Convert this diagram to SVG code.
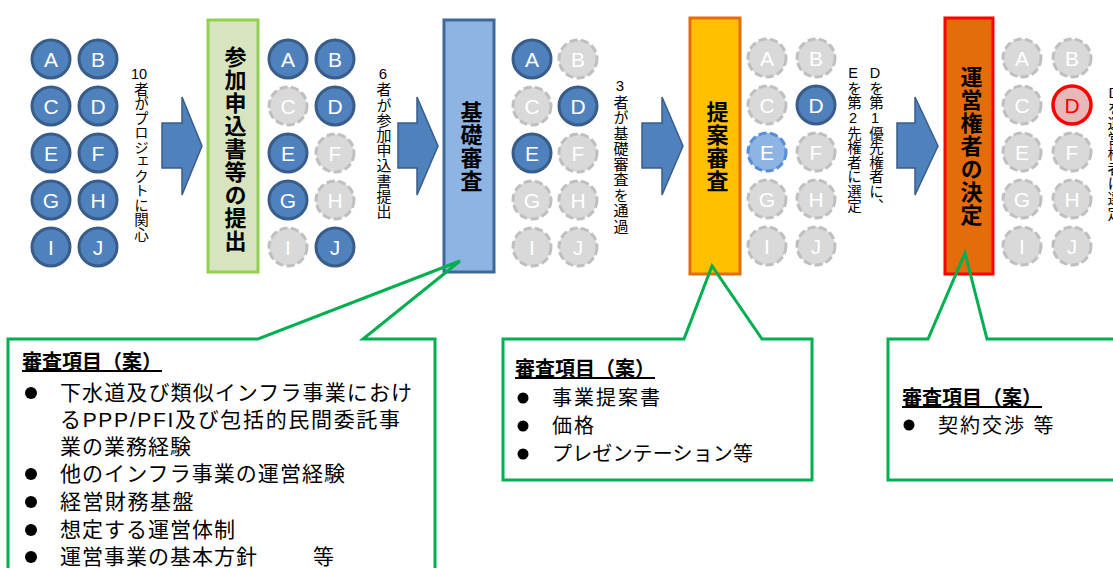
<svg xmlns="http://www.w3.org/2000/svg" width="1113" height="568" viewBox="0 0 1113 568">
<style>
.jp{font-family:"Liberation Sans","Noto Sans CJK JP",sans-serif;}
.v{writing-mode:vertical-rl;text-orientation:upright;font-family:"Liberation Sans","Noto Sans CJK JP",sans-serif;fill:#000;}
.lbl{font-size:15px;}
.ttl{font-size:22px;font-weight:bold;}
.on{fill:#4F81BD;stroke:#385D8A;stroke-width:3;}
.off{fill:#D9D9D9;stroke:#BFBFBF;stroke-width:3;stroke-dasharray:8 3.5;}
.sub{fill:#8EB4E3;stroke:#558ED5;stroke-width:3;stroke-dasharray:8 3.5;}
.win{fill:#E6B9B8;stroke:#FF0000;stroke-width:3.5;}
.ch{font-family:"Liberation Sans",Arial,sans-serif;font-size:21px;fill:#fff;text-anchor:middle;}
.chr{font-family:"Liberation Sans",Arial,sans-serif;font-size:21px;fill:#FF0000;text-anchor:middle;}
.arrow{fill:#4F81BD;stroke:#385D8A;stroke-width:1.5;}
.call{fill:none;stroke:#00B050;stroke-width:3;stroke-linejoin:miter;}
.hd{font-family:"Liberation Sans","Noto Sans CJK JP",sans-serif;font-size:20px;font-weight:bold;text-decoration:underline;fill:#000;}
.it{font-family:"Liberation Sans","Noto Sans CJK JP",sans-serif;font-size:21px;fill:#000;}
.it2{font-family:"Liberation Sans","Noto Sans CJK JP",sans-serif;font-size:20px;fill:#000;}
</style>
<rect x="0" y="0" width="1113" height="568" fill="#fff"/>

<!-- Group 1: 10 companies -->
<g id="group1">
<circle class="on" cx="51" cy="59" r="19"/><text class="ch" x="51" y="66.5">A</text>
<circle class="on" cx="98" cy="59" r="19"/><text class="ch" x="98" y="66.5">B</text>
<circle class="on" cx="51" cy="106" r="19"/><text class="ch" x="51" y="113.5">C</text>
<circle class="on" cx="98" cy="106" r="19"/><text class="ch" x="98" y="113.5">D</text>
<circle class="on" cx="51" cy="153" r="19"/><text class="ch" x="51" y="160.5">E</text>
<circle class="on" cx="98" cy="153" r="19"/><text class="ch" x="98" y="160.5">F</text>
<circle class="on" cx="51" cy="200" r="19"/><text class="ch" x="51" y="207.5">G</text>
<circle class="on" cx="98" cy="200" r="19"/><text class="ch" x="98" y="207.5">H</text>
<circle class="on" cx="51" cy="247" r="19"/><text class="ch" x="51" y="254.5">I</text>
<circle class="on" cx="98" cy="247" r="19"/><text class="ch" x="98" y="254.5">J</text>
</g>
<g id="label1">
<text class="jp" x="139" y="79" font-size="14.5" text-anchor="middle">10</text>
<text class="v lbl" x="140" y="82" style="font-size:14.5px">者がプロジェクトに関心</text>
</g>

<!-- Group 2 -->
<g id="group2">
<circle class="on" cx="288" cy="59" r="19"/><text class="ch" x="288" y="66.5">A</text>
<circle class="on" cx="335" cy="59" r="19"/><text class="ch" x="335" y="66.5">B</text>
<circle class="off" cx="288" cy="106" r="19"/><text class="ch" x="288" y="113.5">C</text>
<circle class="on" cx="335" cy="106" r="19"/><text class="ch" x="335" y="113.5">D</text>
<circle class="on" cx="288" cy="153" r="19"/><text class="ch" x="288" y="160.5">E</text>
<circle class="off" cx="335" cy="153" r="19"/><text class="ch" x="335" y="160.5">F</text>
<circle class="on" cx="288" cy="200" r="19"/><text class="ch" x="288" y="207.5">G</text>
<circle class="off" cx="335" cy="200" r="19"/><text class="ch" x="335" y="207.5">H</text>
<circle class="off" cx="288" cy="247" r="19"/><text class="ch" x="288" y="254.5">I</text>
<circle class="on" cx="335" cy="247" r="19"/><text class="ch" x="335" y="254.5">J</text>
</g>
<g id="label2">
<text class="v lbl" x="383" y="65" style="letter-spacing:0.2px">6者が参加申込書提出</text>
</g>

<!-- Group 3 -->
<g id="group3">
<circle class="on" cx="532" cy="59" r="19"/><text class="ch" x="532" y="66.5">A</text>
<circle class="off" cx="578" cy="59" r="19"/><text class="ch" x="578" y="66.5">B</text>
<circle class="off" cx="532" cy="106" r="19"/><text class="ch" x="532" y="113.5">C</text>
<circle class="on" cx="578" cy="106" r="19"/><text class="ch" x="578" y="113.5">D</text>
<circle class="on" cx="532" cy="153" r="19"/><text class="ch" x="532" y="160.5">E</text>
<circle class="off" cx="578" cy="153" r="19"/><text class="ch" x="578" y="160.5">F</text>
<circle class="off" cx="532" cy="200" r="19"/><text class="ch" x="532" y="207.5">G</text>
<circle class="off" cx="578" cy="200" r="19"/><text class="ch" x="578" y="207.5">H</text>
<circle class="off" cx="532" cy="247" r="19"/><text class="ch" x="532" y="254.5">I</text>
<circle class="off" cx="578" cy="247" r="19"/><text class="ch" x="578" y="254.5">J</text>
</g>
<g id="label3">
<text class="v lbl" x="620" y="77" style="letter-spacing:0.5px">3者が基礎審査を通過</text>
</g>

<!-- Group 4 -->
<g id="group4">
<circle class="off" cx="767" cy="58" r="19"/><text class="ch" x="767" y="65.5">A</text>
<circle class="off" cx="816" cy="58" r="19"/><text class="ch" x="816" y="65.5">B</text>
<circle class="off" cx="767" cy="105" r="19"/><text class="ch" x="767" y="112.5">C</text>
<circle class="on" cx="816" cy="105" r="19"/><text class="ch" x="816" y="112.5">D</text>
<circle class="sub" cx="767" cy="152" r="19"/><text class="ch" x="767" y="159.5">E</text>
<circle class="off" cx="816" cy="152" r="19"/><text class="ch" x="816" y="159.5">F</text>
<circle class="off" cx="767" cy="199" r="19"/><text class="ch" x="767" y="206.5">G</text>
<circle class="off" cx="816" cy="199" r="19"/><text class="ch" x="816" y="206.5">H</text>
<circle class="off" cx="767" cy="246" r="19"/><text class="ch" x="767" y="253.5">I</text>
<circle class="off" cx="816" cy="246" r="19"/><text class="ch" x="816" y="253.5">J</text>
</g>
<g id="label4">
<text class="v lbl" x="875" y="65" style="font-size:14.5px">Dを第1優先権者に、</text>
<text class="v lbl" x="853" y="65" style="font-size:14.5px">Eを第2先権者に選定</text>
</g>

<!-- Group 5 -->
<g id="group5">
<circle class="off" cx="1022" cy="58" r="19"/><text class="ch" x="1022" y="65.5">A</text>
<circle class="off" cx="1072" cy="58" r="19"/><text class="ch" x="1072" y="65.5">B</text>
<circle class="off" cx="1022" cy="105" r="19"/><text class="ch" x="1022" y="112.5">C</text>
<circle class="win" cx="1072" cy="105" r="19"/><text class="chr" x="1072" y="112.5">D</text>
<circle class="off" cx="1022" cy="152" r="19"/><text class="ch" x="1022" y="159.5">E</text>
<circle class="off" cx="1072" cy="152" r="19"/><text class="ch" x="1072" y="159.5">F</text>
<circle class="off" cx="1022" cy="199" r="19"/><text class="ch" x="1022" y="206.5">G</text>
<circle class="off" cx="1072" cy="199" r="19"/><text class="ch" x="1072" y="206.5">H</text>
<circle class="off" cx="1022" cy="246" r="19"/><text class="ch" x="1022" y="253.5">I</text>
<circle class="off" cx="1072" cy="246" r="19"/><text class="ch" x="1072" y="253.5">J</text>
</g>
<g id="label5">
<text class="v lbl" x="1114" y="84">Dを運営権者に選定</text>
</g>

<!-- Stage boxes -->
<g id="stage1">
<rect x="208" y="20" width="50" height="252" fill="#D7E4BD" stroke="#92D050" stroke-width="3"/>
<text class="v ttl" x="233" y="46" style="letter-spacing:1px">参加申込書等の提出</text>
</g>
<g id="stage2">
<rect x="444" y="20" width="50" height="252" fill="#8EB4E3" stroke="#3F6898" stroke-width="3"/>
<text class="v ttl" x="469" y="101" style="letter-spacing:1px">基礎審査</text>
</g>
<g id="stage3">
<rect x="690" y="18" width="50" height="256" fill="#FFC000" stroke="#E46C0A" stroke-width="3"/>
<text class="v ttl" x="715" y="101" style="letter-spacing:1px">提案審査</text>
</g>
<g id="stage4">
<rect x="945" y="18" width="48" height="256" fill="#E46C0A" stroke="#FF0000" stroke-width="3"/>
<text class="v ttl" x="969" y="66" style="letter-spacing:1px">運営権者の決定</text>
</g>

<!-- Connectors -->
<g id="connectors">
<polygon class="arrow" points="162,123 182,123 182,97 202,146 182,195 182,168 162,168"/>
<polygon class="arrow" points="398,123 417,123 417,97 438,146 417,195 417,168 398,168"/>
<polygon class="arrow" points="642,123 662,123 662,97 683,146 662,195 662,168 642,168"/>
<polygon class="arrow" points="897,123 915,123 915,97 938,146 915,195 915,168 897,168"/>
</g>

<!-- Callouts -->
<g id="callout1">
<path class="call" d="M8,572 L8,339 L258,339 L460,261 L363,339 L435,339 L435,572"/>
<text class="hd" x="22" y="369">審査項目（案）</text>
<circle cx="31" cy="393" r="6" fill="#000"/>
<text class="it" x="60" y="400" textLength="352" lengthAdjust="spacing">下水道及び類似インフラ事業におけ</text>
<text class="it" x="60" y="427" textLength="340" lengthAdjust="spacing">るPPP/PFI及び包括的民間委託事</text>
<text class="it" x="60" y="454" style="letter-spacing:1px">業の業務経験</text>
<circle cx="31" cy="474" r="6" fill="#000"/>
<text class="it" x="60" y="481" textLength="285" lengthAdjust="spacing">他のインフラ事業の運営経験</text>
<circle cx="31" cy="502" r="6" fill="#000"/>
<text class="it" x="60" y="509" style="letter-spacing:1.5px">経営財務基盤</text>
<circle cx="31" cy="530" r="6" fill="#000"/>
<text class="it" x="60" y="537" style="letter-spacing:1px">想定する運営体制</text>
<circle cx="31" cy="557" r="6" fill="#000"/>
<text class="it" x="60" y="564" style="letter-spacing:1px">運営事業の基本方針<tspan x="313">等</tspan></text>
</g>
<g id="callout2">
<path class="call" d="M503,339 L684,339 L712,266 L762,339 L812,339 L812,480 L503,480 Z"/>
<text class="hd" x="515" y="376">審査項目（案）</text>
<circle cx="523" cy="398" r="5.5" fill="#000"/>
<text class="it2" x="552" y="405" style="letter-spacing:2px">事業提案書</text>
<circle cx="523" cy="426" r="5.5" fill="#000"/>
<text class="it2" x="552" y="433" style="letter-spacing:2px">価格</text>
<circle cx="523" cy="454" r="5.5" fill="#000"/>
<text class="it2" x="552" y="461" textLength="201" lengthAdjust="spacing">プレゼンテーション等</text>
</g>
<g id="callout3">
<path class="call" d="M1120,480 L888,480 L888,339 L928,339 L965,253 L987,339 L1120,339"/>
<text class="hd" x="902" y="405">審査項目（案）</text>
<circle cx="909" cy="425" r="5.5" fill="#000"/>
<text class="it2" x="938" y="433" style="letter-spacing:2px">契約交渉 等</text>
</g>
</svg>
